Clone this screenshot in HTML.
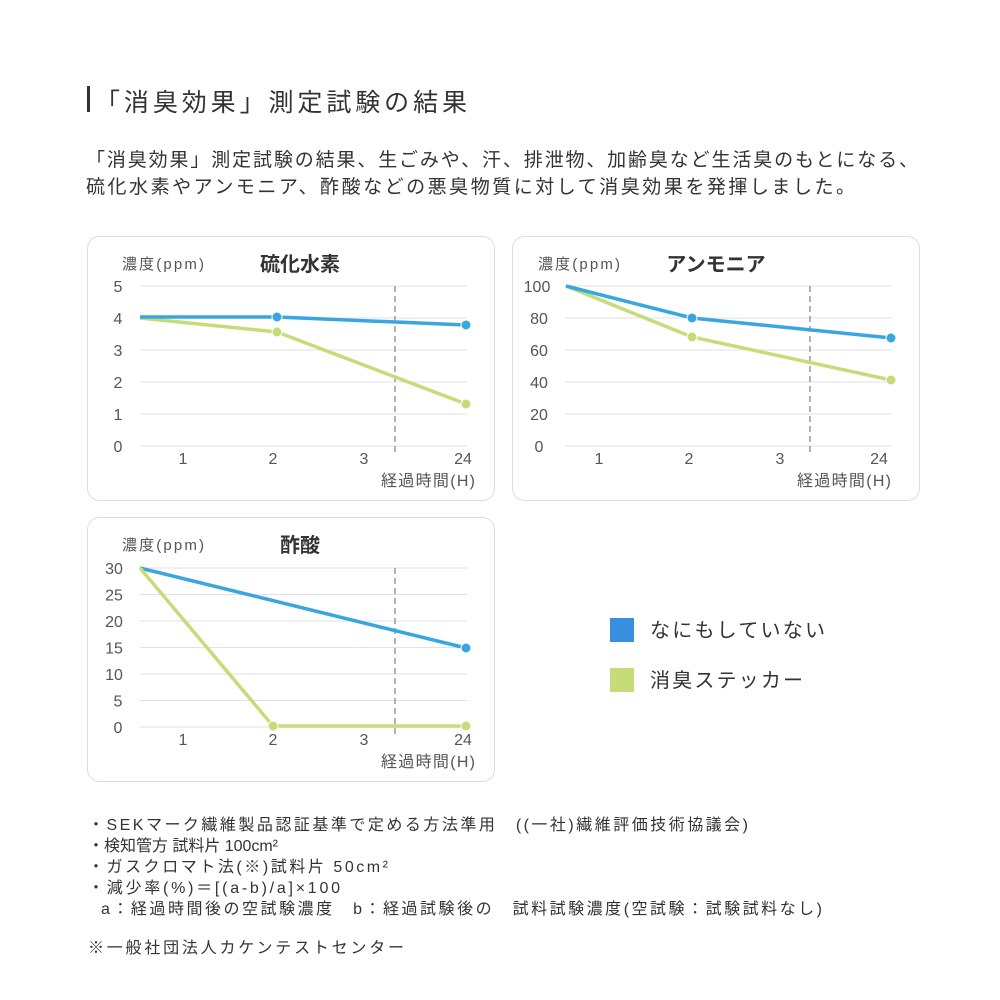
<!DOCTYPE html>
<html><head><meta charset="utf-8"><style>
html,body{margin:0;padding:0;background:#fff;}
svg{display:block;font-family:"Liberation Sans","Noto Sans CJK JP",sans-serif;}
</style></head><body>
<svg width="1000" height="1000" viewBox="0 0 1000 1000" xmlns="http://www.w3.org/2000/svg">
<rect x="87" y="86" width="3" height="26" fill="#333"/>
<text x="95" y="111" font-size="25" textLength="372" fill="#333">「消臭効果」測定試験の結果</text>
<text x="86" y="166" font-size="19" textLength="832" fill="#333">「消臭効果」測定試験の結果、生ごみや、汗、排泄物、加齢臭など生活臭のもとになる、</text>
<text x="86" y="193" font-size="19" textLength="769" fill="#333">硫化水素やアンモニア、酢酸などの悪臭物質に対して消臭効果を発揮しました。</text>

<g id="c1">
<rect x="87.5" y="236.5" width="407" height="264" rx="12" fill="#fff" stroke="#ddd"/>
<g stroke="#e2e2e2" stroke-width="1">
<line x1="140" y1="286" x2="467" y2="286"/><line x1="140" y1="318" x2="467" y2="318"/>
<line x1="140" y1="350" x2="467" y2="350"/><line x1="140" y1="382" x2="467" y2="382"/>
<line x1="140" y1="414" x2="467" y2="414"/><line x1="140" y1="446" x2="467" y2="446"/>
</g>
<line x1="395" y1="286" x2="395" y2="453" stroke="#999" stroke-width="1.5" stroke-dasharray="6,4"/>
<g font-size="16" fill="#555" text-anchor="middle">
<text x="118" y="292">5</text><text x="118" y="324">4</text><text x="118" y="356">3</text>
<text x="118" y="388">2</text><text x="118" y="420">1</text><text x="118" y="452">0</text>
<text x="183" y="464">1</text><text x="273" y="464">2</text><text x="364" y="464">3</text><text x="463" y="464">24</text>
</g>
<text x="122" y="269" font-size="15" textLength="82" fill="#555">濃度(ppm)</text>
<text x="300" y="271" font-size="20" font-weight="bold" fill="#333" text-anchor="middle">硫化水素</text>
<text x="381" y="486" font-size="16" textLength="94" fill="#555">経過時間(H)</text>
<polyline points="140,318 277,332 466,404" fill="none" stroke="#c6dc78" stroke-width="3.5"/>
<polyline points="140,317 277,317 466,325" fill="none" stroke="#3aa6e0" stroke-width="3.5"/>
<circle cx="277" cy="332" r="5" fill="#c6dc78" stroke="#fff"/><circle cx="466" cy="404" r="5" fill="#c6dc78" stroke="#fff"/>
<circle cx="277" cy="317" r="5" fill="#3aa6e0" stroke="#fff"/><circle cx="466" cy="325" r="5" fill="#3aa6e0" stroke="#fff"/>
</g>

<g transform="translate(425,0)">
<rect x="87.5" y="236.5" width="407" height="264" rx="12" fill="#fff" stroke="#ddd"/>
<g stroke="#e2e2e2" stroke-width="1">
<line x1="140" y1="286" x2="467" y2="286"/><line x1="140" y1="318" x2="467" y2="318"/>
<line x1="140" y1="350" x2="467" y2="350"/><line x1="140" y1="382" x2="467" y2="382"/>
<line x1="140" y1="414" x2="467" y2="414"/><line x1="140" y1="446" x2="467" y2="446"/>
</g>
<line x1="385" y1="286" x2="385" y2="453" stroke="#999" stroke-width="1.5" stroke-dasharray="6,4"/>
<g font-size="16" fill="#555" text-anchor="middle">
<text x="112" y="292">100</text><text x="114" y="324">80</text><text x="114" y="356">60</text>
<text x="114" y="388">40</text><text x="114" y="420">20</text><text x="114" y="452">0</text>
<text x="174" y="464">1</text><text x="264" y="464">2</text><text x="355" y="464">3</text><text x="454" y="464">24</text>
</g>
<text x="113" y="269" font-size="15" textLength="82" fill="#555">濃度(ppm)</text>
<text x="291" y="271" font-size="20" font-weight="bold" fill="#333" text-anchor="middle">アンモニア</text>
<text x="372" y="486" font-size="16" textLength="94" fill="#555">経過時間(H)</text>
<polyline points="141,286 267,337 466,380" fill="none" stroke="#c6dc78" stroke-width="3.5"/>
<polyline points="141,286 267,318 466,338" fill="none" stroke="#3aa6e0" stroke-width="3.5"/>
<circle cx="267" cy="337" r="5" fill="#c6dc78" stroke="#fff"/><circle cx="466" cy="380" r="5" fill="#c6dc78" stroke="#fff"/>
<circle cx="267" cy="318" r="5" fill="#3aa6e0" stroke="#fff"/><circle cx="466" cy="338" r="5" fill="#3aa6e0" stroke="#fff"/>
</g>

<g transform="translate(0,281)">
<rect x="87.5" y="236.5" width="407" height="264" rx="12" fill="#fff" stroke="#ddd"/>
<g stroke="#e2e2e2" stroke-width="1">
<line x1="140" y1="287" x2="467" y2="287"/><line x1="140" y1="313.5" x2="467" y2="313.5"/>
<line x1="140" y1="340" x2="467" y2="340"/><line x1="140" y1="366.5" x2="467" y2="366.5"/>
<line x1="140" y1="393" x2="467" y2="393"/><line x1="140" y1="419.5" x2="467" y2="419.5"/>
<line x1="140" y1="446" x2="467" y2="446"/>
</g>
<line x1="395" y1="287" x2="395" y2="453" stroke="#999" stroke-width="1.5" stroke-dasharray="6,4"/>
<g font-size="16" fill="#555" text-anchor="middle">
<text x="114" y="293">30</text><text x="114" y="319.5">25</text><text x="114" y="346">20</text>
<text x="114" y="372.5">15</text><text x="114" y="399">10</text><text x="118" y="425.5">5</text><text x="118" y="452">0</text>
<text x="183" y="464">1</text><text x="273" y="464">2</text><text x="364" y="464">3</text><text x="463" y="464">24</text>
</g>
<text x="122" y="269" font-size="15" textLength="82" fill="#555">濃度(ppm)</text>
<text x="300" y="271" font-size="20" font-weight="bold" fill="#333" text-anchor="middle">酢酸</text>
<text x="381" y="486" font-size="16" textLength="94" fill="#555">経過時間(H)</text>
<polyline points="140,287 466,367" fill="none" stroke="#3aa6e0" stroke-width="3.5"/>
<polyline points="140,287 273,445 466,445" fill="none" stroke="#c6dc78" stroke-width="3.5"/>
<circle cx="466" cy="367" r="5" fill="#3aa6e0" stroke="#fff"/>
<circle cx="273" cy="445" r="5" fill="#c6dc78" stroke="#fff"/><circle cx="466" cy="445" r="5" fill="#c6dc78" stroke="#fff"/>
</g>

<rect x="610" y="618" width="24" height="24" fill="#3a8ee0"/>
<text x="650" y="637" font-size="20" textLength="175" fill="#333">なにもしていない</text>
<rect x="610" y="668" width="24" height="24" fill="#c6dc78"/>
<text x="650" y="687" font-size="20" textLength="153" fill="#333">消臭ステッカー</text>

<g font-size="16" fill="#333">
<text x="88" y="830" textLength="660">・SEKマーク繊維製品認証基準で定める方法準用　((一社)繊維評価技術協議会)</text>
<text x="88" y="851" textLength="190">・検知管方 試料片 100cm²</text>
<text x="88" y="872" textLength="300">・ガスクロマト法(※)試料片 50cm²</text>
<text x="88" y="893" textLength="252">・減少率(%)＝[(a-b)/a]×100</text>
<text x="101" y="914" textLength="721">a：経過時間後の空試験濃度　b：経過試験後の　試料試験濃度(空試験：試験試料なし)</text>
<text x="88" y="953" textLength="316">※一般社団法人カケンテストセンター</text>
</g>
</svg>
</body></html>
